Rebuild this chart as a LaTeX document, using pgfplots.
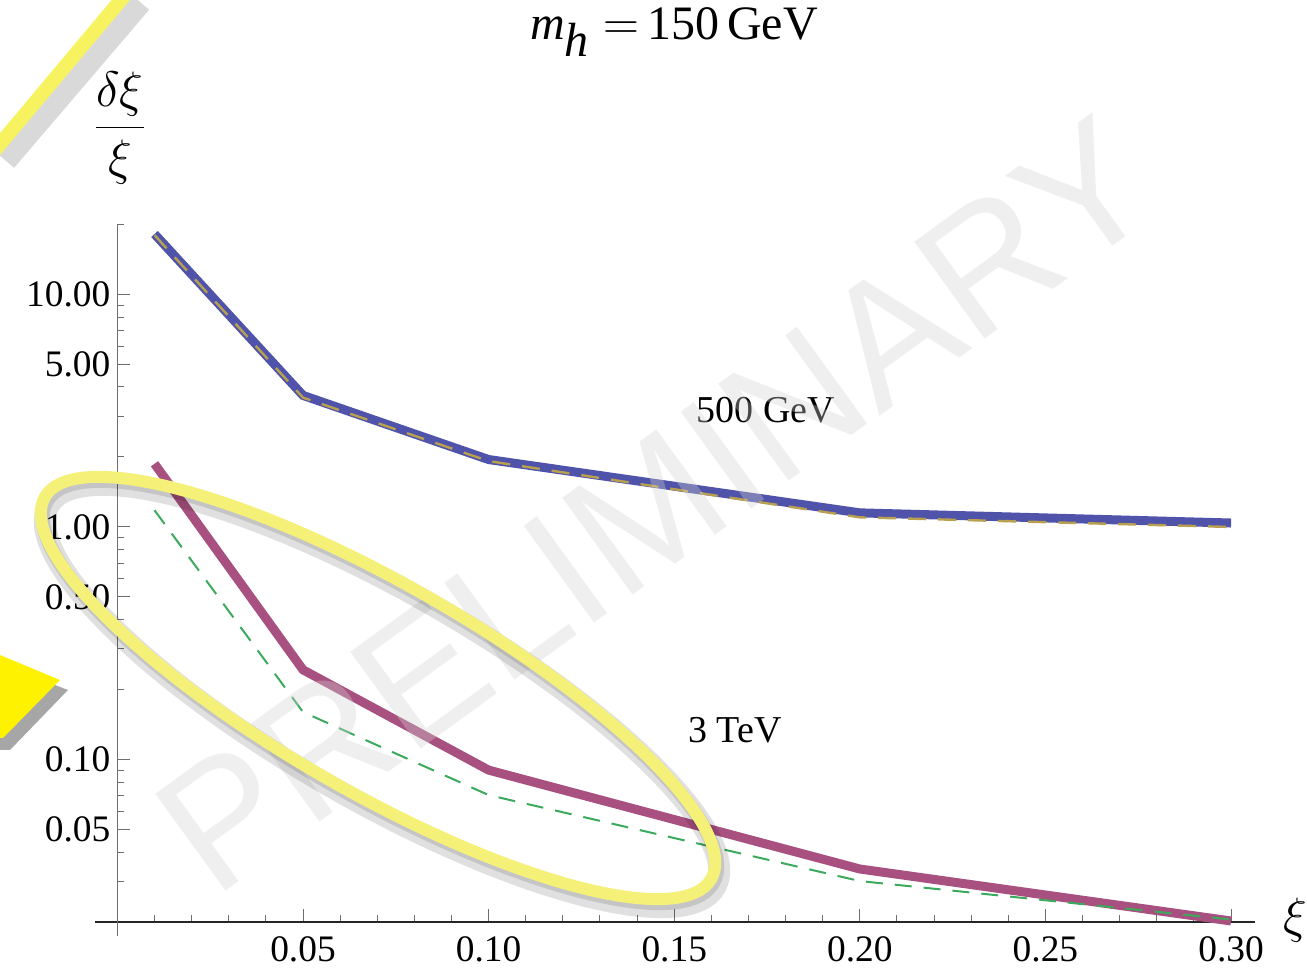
\documentclass[border=0pt]{standalone}
\usepackage{fontspec}
\setmainfont{Liberation Serif}
\newfontfamily\wmfont{Liberation Sans}
\usepackage{pgfplots}
\pgfplotsset{compat=1.18}
\definecolor{cblue}{RGB}{79,83,169}
\definecolor{cpurple}{RGB}{168,80,128}
\definecolor{cgreen}{RGB}{59,170,92}
\definecolor{cgold}{RGB}{184,160,80}
\definecolor{cyellow}{RGB}{245,240,120}
\definecolor{axgray}{RGB}{110,110,110}
\begin{document}
\begin{tikzpicture}
\useasboundingbox (0,0) rectangle (653.5pt,487pt);
\begin{axis}[
  at={(58.7pt,26pt)}, anchor=south west,
  scale only axis, width=568.9pt, height=348.75pt,
  ymode=log, xmin=0, xmax=0.3065, ymin=0.02, ymax=20,
  axis lines=left,
  x axis line style={-, black!85, line width=0.6pt},
  y axis line style={-, axgray, line width=0.6pt},
  xtick={0.05,0.1,0.15,0.2,0.25,0.3},
  xticklabels={0.05,0.10,0.15,0.20,0.25,0.30},
  minor xtick={0.01,0.02,0.03,0.04,0.06,0.07,0.08,0.09,0.11,0.12,0.13,0.14,0.16,0.17,0.18,0.19,0.21,0.22,0.23,0.24,0.26,0.27,0.28,0.29},
  ytick={0.05,0.1,0.5,1,5,10},
  yticklabels={0.05,0.10,0.50,1.00,5.00,10.00},
  minor ytick={0.03,0.04,0.06,0.07,0.08,0.09,0.2,0.3,0.4,0.6,0.7,0.8,0.9,2,3,4,6,7,8,9,20},
  tick align=inside, major tick length=6.5pt, minor tick length=3.5pt,
  tick style={axgray, line width=0.5pt},
  ticklabel style={font=\fontsize{18.7}{20}\selectfont},
  xticklabel style={yshift=-4pt},
  clip=false,
]
\addplot[cblue, line width=4.5pt] coordinates {(0.01,18.2)(0.05,3.68)(0.10,1.95)(0.20,1.15)(0.30,1.04)};
\addplot[cgold, line width=1.2pt, dash pattern=on 9pt off 6pt] coordinates {(0.01,18.0)(0.05,3.6)(0.10,1.92)(0.20,1.10)(0.30,1.00)};
\addplot[cpurple, line width=4.5pt] coordinates {(0.01,1.87)(0.05,0.243)(0.10,0.090)(0.20,0.0338)(0.30,0.0202)};
\addplot[cgreen, line width=1pt, dash pattern=on 8.5pt off 6pt] coordinates {(0.01,1.18)(0.05,0.160)(0.10,0.0703)(0.20,0.030)(0.30,0.0205)};
\coordinate (O) at (axis cs:0,0.02);
\end{axis}
\draw[axgray, line width=0.6pt] (O) -- ++(0,-7pt);
\draw[black!85, line width=0.6pt] (O) -- ++(-11pt,0);
% labels
\node at (337pt,471pt) {\fontsize{24}{26}\selectfont \textit{m}$_{\textit{h}}=$\,150\,GeV};
\node at (60pt,423pt) {\fontsize{24}{26}\selectfont $\displaystyle\frac{\delta\xi}{\xi}$};
\node at (647.5pt,27pt) {\fontsize{24}{26}\selectfont $\xi$};
\node at (383pt,282pt) {\fontsize{19}{20}\selectfont 500 GeV};
\node at (367.5pt,122pt) {\fontsize{19}{20}\selectfont 3 TeV};
% decorations in pixel coordinates
\begin{scope}[x=0.5pt,y=-0.5pt,shift={(0pt,487pt)}]
  \node[rotate=36, text=black!18, opacity=0.35, font=\wmfont\fontsize{87}{90}\selectfont] at (655,505) {PRELIMINARY};
  % ellipse shadow and ellipse
  \draw[black, opacity=0.12, line width=11pt, rotate around={-29.8:(382,696)}] (382,696) ellipse [x radius=192pt, y radius=52pt];
  \draw[black, opacity=0.12, line width=7pt, rotate around={-29.8:(380,692)}] (380,692) ellipse [x radius=192pt, y radius=52pt];
  \draw[cyellow, line width=6pt, rotate around={-29.8:(378,688)}] (378,688) ellipse [x radius=192pt, y radius=52pt];
  % left triangle
  \fill[black, opacity=0.35] (0,664) -- (68,690) -- (10,750) -- (0,750) -- cycle;
  \fill[yellow] (0,655) -- (60,680) -- (3,738) -- (0,738) -- cycle;
  % top-left slash
  \draw[black, opacity=0.15, line width=12pt] (5,160) -- (140,2);
  \draw[cyellow!80!yellow, line width=7pt] (-5,150) -- (125,-5);
\end{scope}
\end{tikzpicture}
\end{document}
